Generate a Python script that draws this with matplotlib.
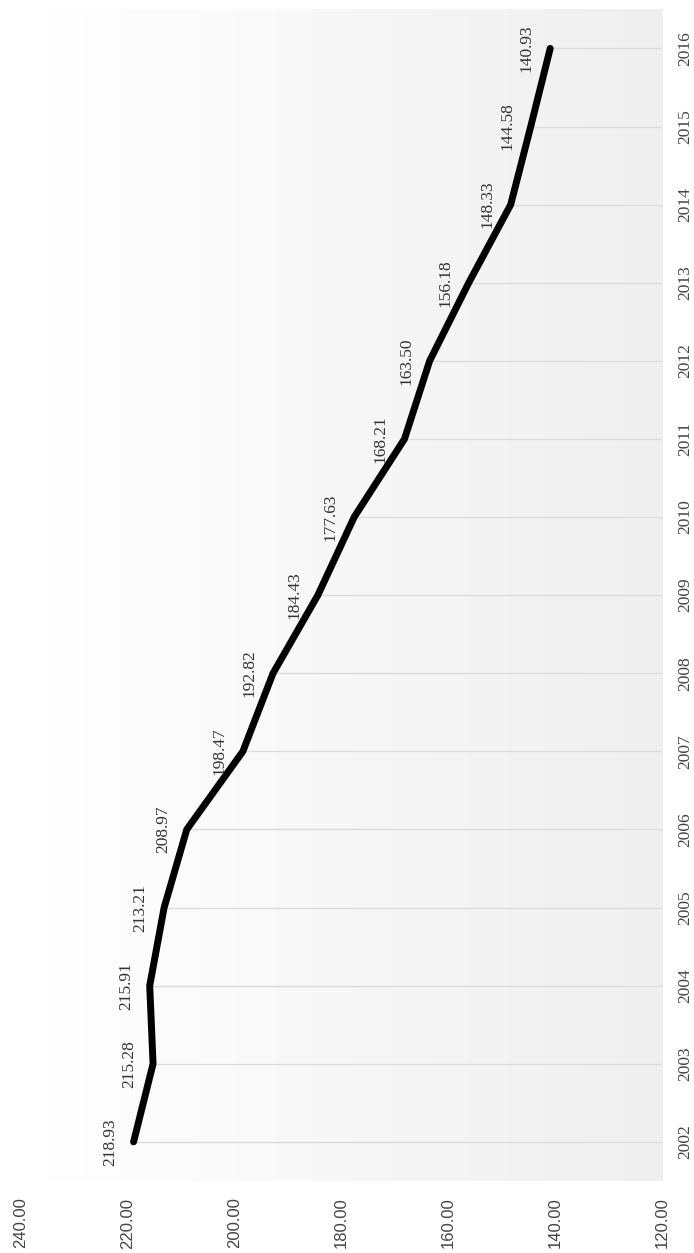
import numpy as np
import matplotlib.pyplot as plt

# chart is drawn already turned: years run upward, values run leftward
years = [2002, 2003, 2004, 2005, 2006, 2007, 2008, 2009,
         2010, 2011, 2012, 2013, 2014, 2015, 2016]
values = [218.93, 215.28, 215.91, 213.21, 208.97, 198.47, 192.82, 184.43,
          177.63, 168.21, 163.50, 156.18, 148.33, 144.58, 140.93]
value_ticks = [240, 220, 200, 180, 160, 140, 120]

fig = plt.figure(figsize=(6.94, 12.53), dpi=100)
ax = fig.add_axes([0.0303, 0.0575, 0.9236, 0.935])

ax.set_xlim(240, 120)
ax.set_ylim(years[0] - 0.5, years[-1] + 0.5)

# plot area background: white to light grey gradient
grad = np.linspace(0, 1, 256).reshape(1, -1)
ax.imshow(grad, cmap=plt.matplotlib.colors.LinearSegmentedColormap.from_list(
    'bg', ['#ffffff', '#efefef']), aspect='auto',
    extent=(0.034, 1, 0, 1), transform=ax.transAxes, zorder=0)

# drop lines from each point to the axis base
ax.hlines(years, values, 120, color='#dcdcdc', lw=1, zorder=1)

ax.plot(values, years, color='black', lw=5, solid_capstyle='round',
        solid_joinstyle='round', zorder=3)

for v, y in zip(values, years):
    ax.annotate(f'{v:.2f}', (v, y), xytext=(-17, 0), textcoords='offset points',
                rotation=90, ha='center', va='center', fontsize=12.5,
                family='Liberation Serif', color='#333333', zorder=4)

ax.set_xticks(value_ticks)
ax.set_xticklabels([f'{t:.2f}' for t in value_ticks], rotation=90,
                   family='Liberation Sans', fontsize=12, color='#444444')
ax.set_yticks(years)
ax.set_yticklabels([str(y) for y in years], rotation=90, va='center',
                   family='Liberation Serif', fontsize=12.5, color='#444444')
ax.yaxis.tick_right()
ax.tick_params(axis='x', length=0, pad=12)
ax.tick_params(axis='y', length=0, pad=11)

for s in ax.spines.values():
    s.set_visible(False)

fig.savefig('out.png', dpi=100)
